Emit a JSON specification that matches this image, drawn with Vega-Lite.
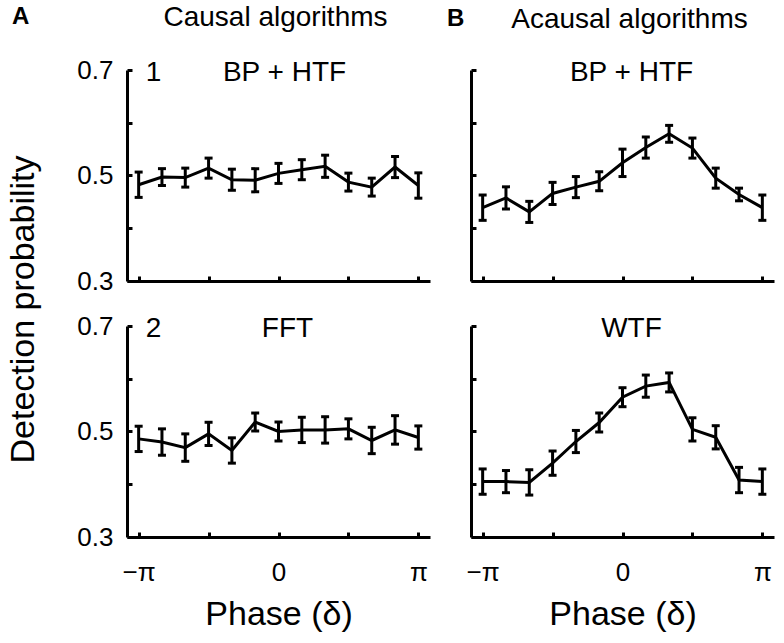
{
  "$schema": "https://vega.github.io/schema/vega-lite/v6.json",
  "background": "white",
  "padding": {"left": 6, "top": 4, "right": 2, "bottom": 2},
  "config": {
    "font": "Liberation Sans",
    "view": {"stroke": null},
    "axis": {
      "domainColor": "black", "domainWidth": 3, "tickColor": "black", "tickWidth": 3, "tickSize": -5,
      "labelColor": "black", "labelFontSize": 26, "labelFont": "Liberation Sans", "grid": false,
      "titleColor": "black", "titleFont": "Liberation Sans", "titleFontSize": 34, "titleFontWeight": "normal",
      "labelFlush": false, "labelOverlap": false
    },
    "title": {"color": "black", "font": "Liberation Sans", "fontWeight": "normal"}
  },
  "datasets": {
    "curves": [
      {"panel": "TL", "phase": -3.14159, "p": 0.4825, "e": 0.024},
      {"panel": "TL", "phase": -2.61799, "p": 0.497, "e": 0.016},
      {"panel": "TL", "phase": -2.0944, "p": 0.496, "e": 0.018},
      {"panel": "TL", "phase": -1.5708, "p": 0.514, "e": 0.019},
      {"panel": "TL", "phase": -1.0472, "p": 0.492, "e": 0.02},
      {"panel": "TL", "phase": -0.5236, "p": 0.491, "e": 0.022},
      {"panel": "TL", "phase": 0, "p": 0.504, "e": 0.019},
      {"panel": "TL", "phase": 0.5236, "p": 0.511, "e": 0.019},
      {"panel": "TL", "phase": 1.0472, "p": 0.5175, "e": 0.021},
      {"panel": "TL", "phase": 1.5708, "p": 0.4875, "e": 0.017},
      {"panel": "TL", "phase": 2.0944, "p": 0.478, "e": 0.017},
      {"panel": "TL", "phase": 2.61799, "p": 0.516, "e": 0.02},
      {"panel": "TL", "phase": 3.14159, "p": 0.481, "e": 0.024},
      {"panel": "TR", "phase": -3.14159, "p": 0.439, "e": 0.024},
      {"panel": "TR", "phase": -2.61799, "p": 0.4575, "e": 0.021},
      {"panel": "TR", "phase": -2.0944, "p": 0.431, "e": 0.02},
      {"panel": "TR", "phase": -1.5708, "p": 0.466, "e": 0.021},
      {"panel": "TR", "phase": -1.0472, "p": 0.478, "e": 0.02},
      {"panel": "TR", "phase": -0.5236, "p": 0.489, "e": 0.018},
      {"panel": "TR", "phase": 0, "p": 0.524, "e": 0.026},
      {"panel": "TR", "phase": 0.5236, "p": 0.553, "e": 0.02},
      {"panel": "TR", "phase": 1.0472, "p": 0.579, "e": 0.016},
      {"panel": "TR", "phase": 1.5708, "p": 0.552, "e": 0.019},
      {"panel": "TR", "phase": 2.0944, "p": 0.495, "e": 0.019},
      {"panel": "TR", "phase": 2.61799, "p": 0.464, "e": 0.012},
      {"panel": "TR", "phase": 3.14159, "p": 0.439, "e": 0.024},
      {"panel": "BL", "phase": -3.14159, "p": 0.486, "e": 0.024},
      {"panel": "BL", "phase": -2.61799, "p": 0.48, "e": 0.025},
      {"panel": "BL", "phase": -2.0944, "p": 0.4695, "e": 0.026},
      {"panel": "BL", "phase": -1.5708, "p": 0.4955, "e": 0.022},
      {"panel": "BL", "phase": -1.0472, "p": 0.464, "e": 0.024},
      {"panel": "BL", "phase": -0.5236, "p": 0.518, "e": 0.017},
      {"panel": "BL", "phase": 0, "p": 0.5, "e": 0.018},
      {"panel": "BL", "phase": 0.5236, "p": 0.503, "e": 0.024},
      {"panel": "BL", "phase": 1.0472, "p": 0.503, "e": 0.025},
      {"panel": "BL", "phase": 1.5708, "p": 0.505, "e": 0.019},
      {"panel": "BL", "phase": 2.0944, "p": 0.483, "e": 0.025},
      {"panel": "BL", "phase": 2.61799, "p": 0.503, "e": 0.027},
      {"panel": "BL", "phase": 3.14159, "p": 0.4886, "e": 0.022},
      {"panel": "BR", "phase": -3.14159, "p": 0.405, "e": 0.024},
      {"panel": "BR", "phase": -2.61799, "p": 0.405, "e": 0.021},
      {"panel": "BR", "phase": -2.0944, "p": 0.4035, "e": 0.024},
      {"panel": "BR", "phase": -1.5708, "p": 0.44, "e": 0.023},
      {"panel": "BR", "phase": -1.0472, "p": 0.481, "e": 0.021},
      {"panel": "BR", "phase": -0.5236, "p": 0.517, "e": 0.018},
      {"panel": "BR", "phase": 0, "p": 0.565, "e": 0.018},
      {"panel": "BR", "phase": 0.5236, "p": 0.586, "e": 0.021},
      {"panel": "BR", "phase": 1.0472, "p": 0.593, "e": 0.018},
      {"panel": "BR", "phase": 1.5708, "p": 0.504, "e": 0.022},
      {"panel": "BR", "phase": 2.0944, "p": 0.489, "e": 0.022},
      {"panel": "BR", "phase": 2.61799, "p": 0.408, "e": 0.024},
      {"panel": "BR", "phase": 3.14159, "p": 0.405, "e": 0.024}
    ],
    "labels": [
      {"panel": "TL", "num": "1", "name": "BP + HTF"},
      {"panel": "BL", "num": "2", "name": "FFT"},
      {"panel": "TR", "num": "", "name": "BP + HTF"},
      {"panel": "BR", "num": "", "name": "WTF"}
    ]
  },
  "spacing": 17,
  "hconcat": [
    {
      "title": {"text": "A", "anchor": "start", "frame": "bounds", "fontSize": 24, "fontWeight": "bold", "offset": -25, "dx": 6},
      "bounds": "flush",
      "spacing": 45,
      "vconcat": [
        {
          "width": 303, "height": 211,
          "title": {"text": "Causal algorithms", "anchor": "middle", "frame": "group", "fontSize": 28, "offset": 25, "dx": -3},
          "layer": [
            {
              "data": {"name": "curves"}, "transform": [{"filter": "datum.panel == 'TL'"}],
              "mark": {"type": "line", "color": "black", "strokeWidth": 3},
              "encoding": {
                "x": {"field": "phase", "type": "quantitative", "scale": {"domain": [-3.40339, 3.40339], "nice": false, "zero": false},
                      "axis": {"values": [-3.14159, -1.5708, 0, 1.5708, 3.14159], "labels": false, "title": null}},
                "y": {"field": "p", "type": "quantitative", "scale": {"domain": [0.3, 0.7], "nice": false, "zero": false},
                      "axis": {"values": [0.3, 0.4, 0.5, 0.6, 0.7], "labelExpr": "datum.value == 0.4 || datum.value == 0.6 ? '' : format(datum.value, '.1f')", "labelPadding": 19,
                               "title": "Detection probability", "titleX": -121, "titleY": 239, "titleAngle": 270, "titleAlign": "center", "titleBaseline": "top"}}
              }
            },
            {
              "data": {"name": "curves"}, "transform": [{"filter": "datum.panel == 'TL'"}],
              "mark": {"type": "errorbar", "ticks": {"color": "black", "opacity": 1}, "rule": {"color": "black", "opacity": 1}, "size": 8, "thickness": 3},
              "encoding": {"x": {"field": "phase", "type": "quantitative", "title": null}, "y": {"field": "p", "type": "quantitative", "title": "Detection probability"}, "yError": {"field": "e"}}
            },
            {
              "data": {"name": "labels"}, "transform": [{"filter": "datum.panel == 'TL'"}],
              "mark": {"type": "text", "fontSize": 28, "baseline": "middle", "align": "center", "dx": 6, "dy": 3, "color": "black"},
              "encoding": {"x": {"datum": 0, "type": "quantitative"}, "y": {"datum": 0.7, "type": "quantitative"}, "text": {"field": "name"}}
            },
            {
              "data": {"name": "labels"}, "transform": [{"filter": "datum.panel == 'TL'"}],
              "mark": {"type": "text", "fontSize": 28, "baseline": "middle", "align": "left", "dx": 7, "dy": 3, "color": "black"},
              "encoding": {"x": {"datum": -3.14159, "type": "quantitative"}, "y": {"datum": 0.7, "type": "quantitative"}, "text": {"field": "num"}}
            }
          ]
        },
        {
          "width": 303, "height": 211,
          "layer": [
            {
              "data": {"name": "curves"}, "transform": [{"filter": "datum.panel == 'BL'"}],
              "mark": {"type": "line", "color": "black", "strokeWidth": 3},
              "encoding": {
                "x": {"field": "phase", "type": "quantitative", "scale": {"domain": [-3.40339, 3.40339], "nice": false, "zero": false},
                      "axis": {"values": [-3.14159, -1.5708, 0, 1.5708, 3.14159], "labelExpr": "datum.value < -3 ? '−π' : datum.value > 3 ? 'π' : (abs(datum.value) < 0.01 ? '0' : '')", "labelPadding": 27, "title": "Phase (δ)", "titlePadding": 12}},
                "y": {"field": "p", "type": "quantitative", "scale": {"domain": [0.3, 0.7], "nice": false, "zero": false},
                      "axis": {"values": [0.3, 0.4, 0.5, 0.6, 0.7], "labelExpr": "datum.value == 0.4 || datum.value == 0.6 ? '' : format(datum.value, '.1f')", "labelPadding": 19, "title": null}}
              }
            },
            {
              "data": {"name": "curves"}, "transform": [{"filter": "datum.panel == 'BL'"}],
              "mark": {"type": "errorbar", "ticks": {"color": "black", "opacity": 1}, "rule": {"color": "black", "opacity": 1}, "size": 8, "thickness": 3},
              "encoding": {"x": {"field": "phase", "type": "quantitative", "title": "Phase (δ)"}, "y": {"field": "p", "type": "quantitative", "title": null}, "yError": {"field": "e"}}
            },
            {
              "data": {"name": "labels"}, "transform": [{"filter": "datum.panel == 'BL'"}],
              "mark": {"type": "text", "fontSize": 28, "baseline": "middle", "align": "center", "dx": 9, "dy": 3, "color": "black"},
              "encoding": {"x": {"datum": 0, "type": "quantitative"}, "y": {"datum": 0.7, "type": "quantitative"}, "text": {"field": "name"}}
            },
            {
              "data": {"name": "labels"}, "transform": [{"filter": "datum.panel == 'BL'"}],
              "mark": {"type": "text", "fontSize": 28, "baseline": "middle", "align": "left", "dx": 7, "dy": 3, "color": "black"},
              "encoding": {"x": {"datum": -3.14159, "type": "quantitative"}, "y": {"datum": 0.7, "type": "quantitative"}, "text": {"field": "num"}}
            }
          ]
        }
      ]
    },
    {
      "title": {"text": "B", "anchor": "start", "frame": "bounds", "fontSize": 24, "fontWeight": "bold", "offset": -25, "dx": -19},
      "bounds": "flush",
      "spacing": 45,
      "vconcat": [
        {
          "width": 303, "height": 211,
          "title": {"text": "Acausal algorithms", "anchor": "middle", "frame": "group", "fontSize": 28, "offset": 25, "dx": 7},
          "layer": [
            {
              "data": {"name": "curves"}, "transform": [{"filter": "datum.panel == 'TR'"}],
              "mark": {"type": "line", "color": "black", "strokeWidth": 3},
              "encoding": {
                "x": {"field": "phase", "type": "quantitative", "scale": {"domain": [-3.40339, 3.40339], "nice": false, "zero": false},
                      "axis": {"values": [-3.14159, -1.5708, 0, 1.5708, 3.14159], "labels": false, "title": null}},
                "y": {"field": "p", "type": "quantitative", "scale": {"domain": [0.3, 0.7], "nice": false, "zero": false},
                      "axis": {"values": [0.3, 0.4, 0.5, 0.6, 0.7], "labels": false, "title": null}}
              }
            },
            {
              "data": {"name": "curves"}, "transform": [{"filter": "datum.panel == 'TR'"}],
              "mark": {"type": "errorbar", "ticks": {"color": "black", "opacity": 1}, "rule": {"color": "black", "opacity": 1}, "size": 8, "thickness": 3},
              "encoding": {"x": {"field": "phase", "type": "quantitative", "title": null}, "y": {"field": "p", "type": "quantitative", "title": null}, "yError": {"field": "e"}}
            },
            {
              "data": {"name": "labels"}, "transform": [{"filter": "datum.panel == 'TR'"}],
              "mark": {"type": "text", "fontSize": 28, "baseline": "middle", "align": "center", "dx": 9, "dy": 3, "color": "black"},
              "encoding": {"x": {"datum": 0, "type": "quantitative"}, "y": {"datum": 0.7, "type": "quantitative"}, "text": {"field": "name"}}
            }
          ]
        },
        {
          "width": 303, "height": 211,
          "layer": [
            {
              "data": {"name": "curves"}, "transform": [{"filter": "datum.panel == 'BR'"}],
              "mark": {"type": "line", "color": "black", "strokeWidth": 3},
              "encoding": {
                "x": {"field": "phase", "type": "quantitative", "scale": {"domain": [-3.40339, 3.40339], "nice": false, "zero": false},
                      "axis": {"values": [-3.14159, -1.5708, 0, 1.5708, 3.14159], "labelExpr": "datum.value < -3 ? '−π' : datum.value > 3 ? 'π' : (abs(datum.value) < 0.01 ? '0' : '')", "labelPadding": 27, "title": "Phase (δ)", "titlePadding": 12}},
                "y": {"field": "p", "type": "quantitative", "scale": {"domain": [0.3, 0.7], "nice": false, "zero": false},
                      "axis": {"values": [0.3, 0.4, 0.5, 0.6, 0.7], "labels": false, "title": null}}
              }
            },
            {
              "data": {"name": "curves"}, "transform": [{"filter": "datum.panel == 'BR'"}],
              "mark": {"type": "errorbar", "ticks": {"color": "black", "opacity": 1}, "rule": {"color": "black", "opacity": 1}, "size": 8, "thickness": 3},
              "encoding": {"x": {"field": "phase", "type": "quantitative", "title": "Phase (δ)"}, "y": {"field": "p", "type": "quantitative", "title": null}, "yError": {"field": "e"}}
            },
            {
              "data": {"name": "labels"}, "transform": [{"filter": "datum.panel == 'BR'"}],
              "mark": {"type": "text", "fontSize": 28, "baseline": "middle", "align": "center", "dx": 9, "dy": 3, "color": "black"},
              "encoding": {"x": {"datum": 0, "type": "quantitative"}, "y": {"datum": 0.7, "type": "quantitative"}, "text": {"field": "name"}}
            }
          ]
        }
      ]
    }
  ]
}
